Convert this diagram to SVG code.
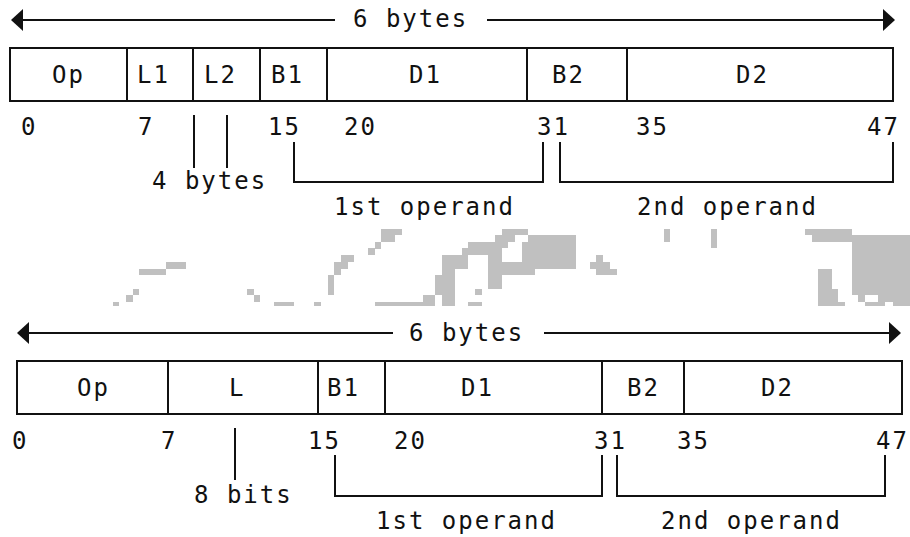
<svg xmlns="http://www.w3.org/2000/svg" width="910" height="537" viewBox="0 0 910 537">
  <style>
    .ln { stroke: #111; stroke-width: 2; fill: none; }
    .box { stroke: #111; stroke-width: 2; fill: #fff; }
    .t { font-family: "DejaVu Sans Mono", "Liberation Mono", monospace; font-size: 24px; letter-spacing: 2px; fill: #111; }
    .smudge rect { fill: #c0c0c0; }
  </style>
  <defs>
    <marker id="head" viewBox="0 0 12 22" refX="11" refY="11" markerWidth="12" markerHeight="22" markerUnits="userSpaceOnUse" orient="auto-start-reverse">
      <path d="M0,0 L12,11 L0,22 Z" fill="#111"/>
    </marker>
  </defs>
  <rect width="910" height="537" fill="#fff"/>

  <!-- SS format, upper layout: two length fields -->
  <g id="top-format">
    <g id="top-op"><rect class="box" x="10" y="48" width="117" height="53"/><text class="t" x="52" y="83">Op</text></g>
    <g id="top-l1"><rect class="box" x="127" y="48" width="66" height="53"/><text class="t" x="137" y="83">L1</text></g>
    <g id="top-l2"><rect class="box" x="193" y="48" width="67" height="53"/><text class="t" x="204" y="83">L2</text></g>
    <g id="top-b1"><rect class="box" x="260" y="48" width="67" height="53"/><text class="t" x="271" y="83">B1</text></g>
    <g id="top-d1"><rect class="box" x="327" y="48" width="200" height="53"/><text class="t" x="409" y="83">D1</text></g>
    <g id="top-b2"><rect class="box" x="527" y="48" width="100" height="53"/><text class="t" x="552" y="83">B2</text></g>
    <g id="top-d2"><rect class="box" x="627" y="48" width="266" height="53"/><text class="t" x="736" y="83">D2</text></g>
  </g>

  <g id="top-labels" class="t">
    <text class="t" x="353" y="27">6 bytes</text>
    <text class="t" x="21" y="135">0</text>
    <text class="t" x="138" y="135">7</text>
    <text class="t" x="268" y="135">15</text>
    <text class="t" x="344" y="135">20</text>
    <text class="t" x="537" y="135">31</text>
    <text class="t" x="636" y="135">35</text>
    <text class="t" x="867" y="135">47</text>
    <text class="t" x="152" y="189">4 bytes</text>
    <text class="t" x="334" y="215">1st operand</text>
    <text class="t" x="637" y="215">2nd operand</text>
  </g>

  <!-- SS format, lower layout: single length field -->
  <g id="bottom-format">
    <g id="bot-op"><rect class="box" x="17" y="361" width="151" height="53"/><text class="t" x="77" y="396">Op</text></g>
    <g id="bot-l"><rect class="box" x="168" y="361" width="150" height="53"/><text class="t" x="229" y="396">L</text></g>
    <g id="bot-b1"><rect class="box" x="318" y="361" width="67" height="53"/><text class="t" x="327" y="396">B1</text></g>
    <g id="bot-d1"><rect class="box" x="385" y="361" width="217" height="53"/><text class="t" x="461" y="396">D1</text></g>
    <g id="bot-b2"><rect class="box" x="602" y="361" width="82" height="53"/><text class="t" x="627" y="396">B2</text></g>
    <g id="bot-d2"><rect class="box" x="684" y="361" width="218" height="53"/><text class="t" x="761" y="396">D2</text></g>
  </g>

  <g id="bottom-labels">
    <text class="t" x="409" y="341">6 bytes</text>
    <text class="t" x="12" y="449">0</text>
    <text class="t" x="161" y="449">7</text>
    <text class="t" x="308" y="449">15</text>
    <text class="t" x="394" y="449">20</text>
    <text class="t" x="594" y="449">31</text>
    <text class="t" x="677" y="449">35</text>
    <text class="t" x="876" y="449">47</text>
    <text class="t" x="194" y="503">8 bits</text>
    <text class="t" x="376" y="529">1st operand</text>
    <text class="t" x="661" y="529">2nd operand</text>
  </g>

  <!-- dimension arrows, pointers and operand brackets -->
  <g id="connectors">
    <line class="ln" x1="335" y1="20" x2="12" y2="20" marker-end="url(#head)"/>
    <line class="ln" x1="487" y1="20" x2="894" y2="20" marker-end="url(#head)"/>
    <line class="ln" x1="194" y1="115" x2="194" y2="168"/>
    <line class="ln" x1="227" y1="115" x2="227" y2="168"/>
    <polyline class="ln" points="294,142 294,182 543,182 543,142"/>
    <polyline class="ln" points="560,142 560,182 893,182 893,142"/>

    <line class="ln" x1="393" y1="333" x2="18" y2="333" marker-end="url(#head)"/>
    <line class="ln" x1="544" y1="333" x2="900" y2="333" marker-end="url(#head)"/>
    <line class="ln" x1="235" y1="428" x2="235" y2="480"/>
    <polyline class="ln" points="335,455 335,496 602,496 602,455"/>
    <polyline class="ln" points="617,455 617,496 885,496 885,455"/>
  </g>

  <!-- grey smudge marks between the two layouts -->
  <g class="smudge">
    <rect x="166" y="262" width="20" height="7"/>
    <rect x="139" y="269" width="27" height="6"/>
    <rect x="133" y="289" width="6" height="6"/>
    <rect x="126" y="295" width="7" height="7"/>
    <rect x="113" y="302" width="6" height="4"/>
    <rect x="247" y="289" width="7" height="6"/>
    <rect x="254" y="295" width="6" height="7"/>
    <rect x="274" y="302" width="20" height="4"/>

    <rect x="314" y="302" width="7" height="4"/>
    <rect x="328" y="275" width="6" height="20"/>
    <rect x="334" y="262" width="7" height="13"/>
    <rect x="334" y="262" width="14" height="7"/>
    <rect x="341" y="255" width="13" height="7"/>
    <rect x="368" y="248" width="7" height="7"/>
    <rect x="375" y="242" width="6" height="7"/>
    <rect x="381" y="229" width="21" height="6"/>
    <rect x="381" y="235" width="14" height="7"/>
    <rect x="375" y="302" width="48" height="4"/>
    <rect x="423" y="295" width="12" height="11"/>
    <rect x="435" y="275" width="20" height="20"/>
    <rect x="442" y="255" width="13" height="51"/>
    <rect x="442" y="255" width="26" height="14"/>
    <rect x="462" y="248" width="40" height="7"/>
    <rect x="468" y="242" width="40" height="6"/>
    <rect x="495" y="235" width="20" height="7"/>
    <rect x="502" y="229" width="26" height="6"/>
    <rect x="488" y="255" width="14" height="34"/>
    <rect x="475" y="289" width="7" height="6"/>
    <rect x="468" y="302" width="14" height="4"/>
    <rect x="528" y="235" width="32" height="7"/>
    <rect x="522" y="242" width="38" height="27"/>
    <rect x="502" y="262" width="33" height="13"/>
    <rect x="560" y="235" width="16" height="34"/>

    <rect x="596" y="255" width="7" height="7"/>
    <rect x="590" y="262" width="20" height="7"/>
    <rect x="596" y="269" width="21" height="6"/>
    <rect x="664" y="229" width="6" height="13"/>
    <rect x="711" y="229" width="6" height="19"/>

    <rect x="805" y="229" width="47" height="6"/>
    <rect x="812" y="235" width="98" height="7"/>
    <rect x="852" y="242" width="58" height="53"/>
    <rect x="818" y="269" width="14" height="37"/>
    <rect x="832" y="289" width="6" height="13"/>
    <rect x="832" y="302" width="13" height="4"/>
    <rect x="858" y="295" width="7" height="7"/>
    <rect x="878" y="295" width="32" height="7"/>
    <rect x="865" y="302" width="20" height="4"/>
    <rect x="893" y="302" width="17" height="4"/>
  </g>
</svg>
